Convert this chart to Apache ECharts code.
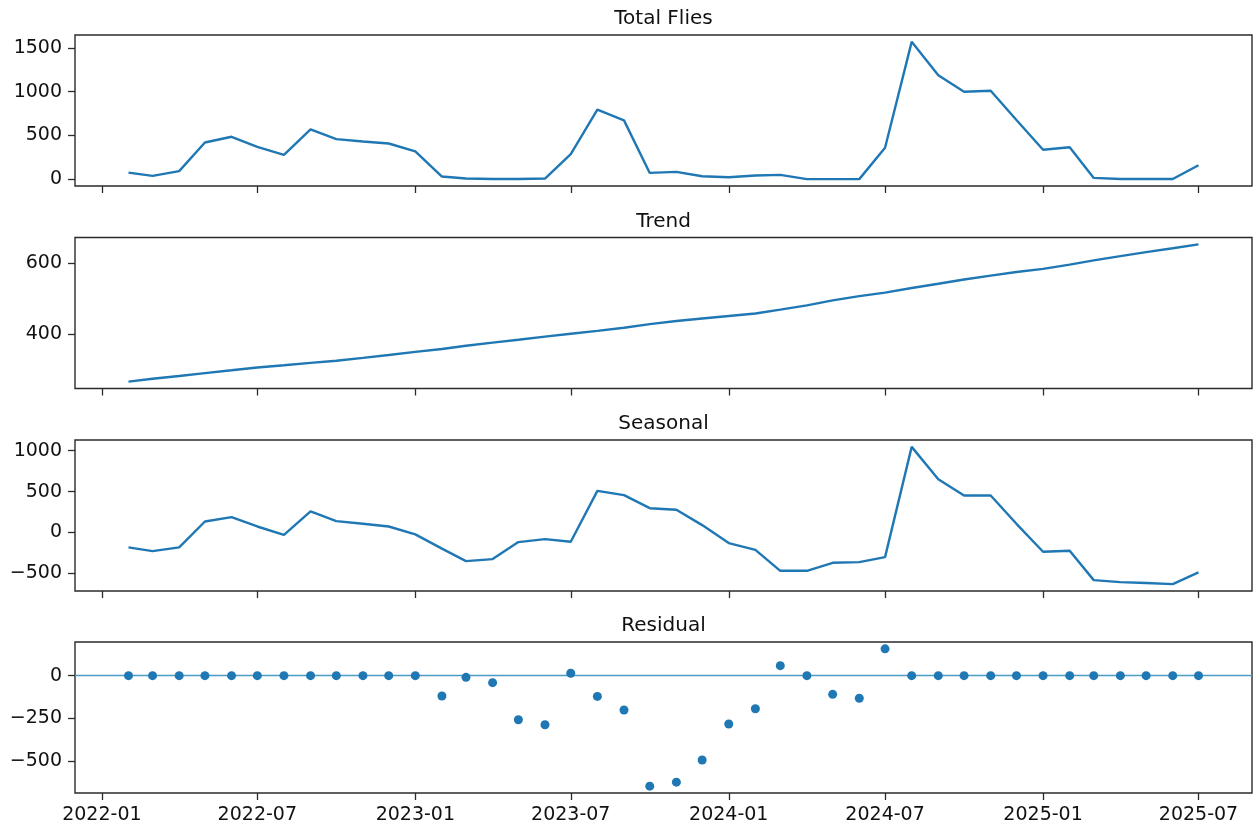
<!DOCTYPE html>
<html><head><meta charset="utf-8">
<script src="https://cdn.jsdelivr.net/npm/echarts@6/dist/echarts.min.js"></script>
<style>html,body{margin:0;padding:0;background:#fff}#c{width:1257px;height:825px}</style>
</head><body><div id="c"></div>
<script>
const dates = ['2022-02-01','2022-03-01','2022-04-01','2022-05-01','2022-06-01','2022-07-01','2022-08-01','2022-09-01','2022-10-01','2022-11-01','2022-12-01',
  '2023-01-01','2023-02-01','2023-03-01','2023-04-01','2023-05-01','2023-06-01','2023-07-01','2023-08-01','2023-09-01','2023-10-01','2023-11-01','2023-12-01',
  '2024-01-01','2024-02-01','2024-03-01','2024-04-01','2024-05-01','2024-06-01','2024-07-01','2024-08-01','2024-09-01','2024-10-01','2024-11-01','2024-12-01',
  '2025-01-01','2025-02-01','2025-03-01','2025-04-01','2025-05-01','2025-06-01','2025-07-01'];
const totalFlies = [76,38,92,420,485,370,279,569,458,431,408,317,
  31,8,3,2,8,286,794,672,72,84,34,23,
  42,50,1,1,1,359,1569,1187,1000,1011,676,336,
  366,15,3,2,2,160];
const trend = [265,273,281,289,297,305,311,318,324,332,340,349,
  357,366,375,383,392,400,408,417,427,436,443,450,
  457,468,480,494,506,516,529,541,553,564,574,583,
  595,607,619,630,641,652];
const seasonal = [-183,-228,-183,134,187,73,-29,257,139,106,73,-24,
  -197,-350,-326,-118,-81,-114,509,456,297,277,90,-130,
  -212,-469,-469,-371,-363,-302,1047,652,452,452,106,-236,
  -224,-583,-607,-619,-632,-489];
const residual = [0,0,0,0,0,0,0,0,0,0,0,0,
  -119,-10,-41,-257,-286,14,-121,-200,-644,-621,-492,-282,
  -193,58,0,-109,-132,156,0,0,0,0,0,0,
  0,0,0,0,0,0];
const xTickLabels = ['2022-01','2022-07','2023-01','2023-07','2024-01','2024-07','2025-01','2025-07'];
const totalTicks = [0,500,1000,1500];
const trendTicks = [400,600];
const seasonalTicks = [-500,0,500,1000];
const residualTicks = [-500,-250,0];
const titles = ['Total Flies','Trend','Seasonal','Residual'];

function toUTC(s){const p=s.split('-').map(Number);return Date.UTC(p[0],p[1]-1,p[2]||1);}
const xs = dates.map(toUTC);
const xTickVals = xTickLabels.map(toUTC);
const span = xs[xs.length-1]-xs[0];
const xMin = xs[0]-0.05*span, xMax = xs[xs.length-1]+0.05*span;
function ext(arr){const mn=Math.min.apply(null,arr),mx=Math.max.apply(null,arr),r=mx-mn;return [mn-0.05*r,mx+0.05*r];}
const FONT = 'DejaVu Sans';
const C = '#1f77b4';
const tops = [35,237.5,440,642];
const titleTops = [9,211.3,413.6,616];
const H = 151;
const yFmt = v => v<0 ? '\u2212'+Math.abs(v) : String(v);

const grids = tops.map(t=>({left:75,right:5,top:t,height:H,show:true,borderColor:'#2b2b2b',borderWidth:1.4,backgroundColor:'transparent'}));
const xAxes = tops.map((t,i)=>({type:'value',gridIndex:i,min:xMin,max:xMax,position:'bottom',
  axisLine:{show:false,onZero:false},splitLine:{show:false},
  axisTick:{show:true,length:7,lineStyle:{color:'#2b2b2b',width:1.3},customValues:xTickVals},
  axisLabel:{show:i===3,customValues:xTickVals,margin:13,fontFamily:FONT,fontSize:19,color:'#111',
    formatter:v=>{let k=-1;xTickVals.forEach((t,j)=>{if(Math.abs(t-v)<1000)k=j;});return k>=0?xTickLabels[k]:'';}}}));
const ySets = [[totalFlies,totalTicks],[trend,trendTicks],[seasonal,seasonalTicks],[residual.concat([0]),residualTicks]];
const yAxes = ySets.map((s,i)=>{const e=ext(s[0]);return {type:'value',gridIndex:i,min:e[0],max:e[1],position:'left',
  axisLine:{show:false,onZero:false},splitLine:{show:false},
  axisTick:{show:true,length:7,lineStyle:{color:'#2b2b2b',width:1.3},customValues:s[1]},
  axisLabel:{customValues:s[1],margin:13,fontFamily:FONT,fontSize:19,color:'#111',formatter:yFmt}};});
const pair = arr => arr.map((v,i)=>[xs[i],v]);
const lineSeries = [totalFlies,trend,seasonal].map((d,i)=>({type:'line',xAxisIndex:i,yAxisIndex:i,data:pair(d),
  showSymbol:false,symbol:'none',lineStyle:{color:C,width:2.4},itemStyle:{color:C},animation:false}));
const residSeries = {type:'scatter',xAxisIndex:3,yAxisIndex:3,data:pair(residual),symbol:'circle',symbolSize:9,z:3,
  itemStyle:{color:C,opacity:1},animation:false,
  markLine:{silent:true,z:1,symbol:'none',label:{show:false},lineStyle:{color:'#4a9cc6',width:1.3,type:'solid'},
    data:[{yAxis:0}],animation:false}};

const chart = echarts.init(document.getElementById('c'),null,{renderer:'canvas'});
chart.setOption({
  animation:false, backgroundColor:'#fff',
  title: titles.map((t,i)=>({text:t,left:663.5,textAlign:'center',top:titleTops[i],padding:0,
    textStyle:{fontFamily:FONT,fontSize:20,fontWeight:'normal',color:'#111'}})),
  grid:grids, xAxis:xAxes, yAxis:yAxes,
  series: lineSeries.concat([residSeries])
});
</script></body></html>
